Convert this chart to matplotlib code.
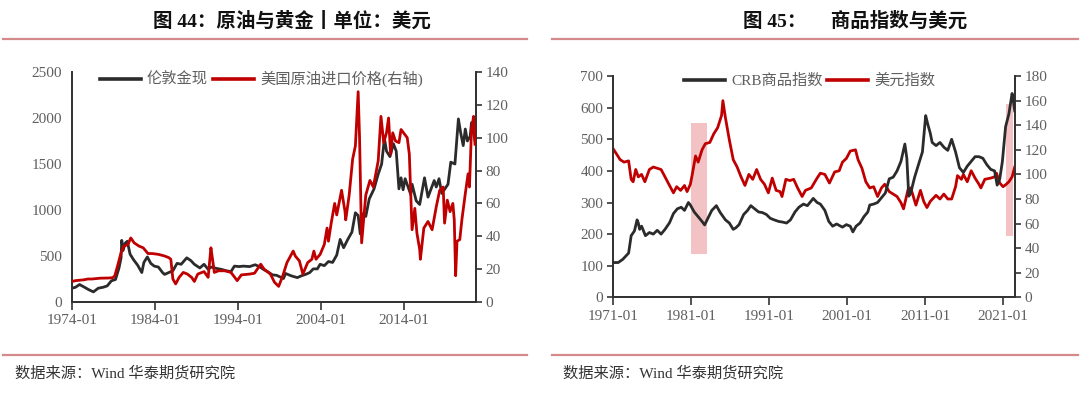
import matplotlib
matplotlib.use("Agg")
import matplotlib.pyplot as plt
import matplotlib.dates as mdates
from matplotlib.lines import Line2D
import pandas as pd

plt.rcParams['font.family'] = ['Liberation Serif', 'Noto Sans CJK SC', 'DejaVu Sans']

# ---------------- Data: chart 44 ----------------
gold_dates = ["1974-01","1974-06","1974-12","1975-06","1976-01","1976-08","1977-03","1977-10","1978-04","1978-10",
              "1979-04","1979-09","1979-12","1980-01","1980-03","1980-06","1980-09","1981-01","1981-06","1981-12",
              "1982-06","1982-09","1983-02","1983-07","1983-12","1984-06","1984-12","1985-03","1985-09","1986-03",
              "1986-09","1987-03","1987-11","1988-05","1988-10","1989-06","1989-12","1990-06","1990-10","1991-06",
              "1992-01","1992-08","1993-03","1993-08","1994-03","1994-09","1995-06","1996-02","1996-08","1997-03",
              "1997-09","1998-03","1998-09","1999-07","1999-10","2000-06","2001-03","2001-09","2002-03","2002-09",
              "2003-02","2003-08","2003-12","2004-06","2004-12","2005-06","2005-12","2006-05","2006-10","2007-04",
              "2007-10","2008-03","2008-07","2008-10","2009-02","2009-06","2009-11","2010-06","2010-12","2011-05",
              "2011-09","2011-12","2012-05","2012-10","2013-02","2013-06","2013-09","2013-12","2014-03","2014-11",
              "2015-01","2015-07","2015-12","2016-07","2016-12","2017-09","2017-12","2018-04","2018-08","2019-05",
              "2019-09","2020-03","2020-08","2020-11","2021-03","2021-06","2021-09","2022-01","2022-03","2022-06",
              "2022-08"]
gold_vals = [150,160,190,165,135,110,150,160,175,230,
             245,370,480,670,560,640,660,520,460,400,
             320,430,490,420,390,380,320,300,320,340,
             420,410,480,450,410,370,410,355,380,365,
             355,340,330,390,385,390,385,405,385,350,
             325,295,290,255,310,285,265,285,300,320,
             360,360,410,395,440,430,510,680,590,680,
             760,970,940,740,960,930,1120,1230,1390,1500,
             1780,1640,1580,1720,1640,1230,1350,1220,1340,1170,
             1280,1100,1060,1350,1140,1320,1250,1340,1180,1280,
             1520,1500,1990,1850,1700,1880,1750,1800,1950,1830,
             1760]

oil_dates = ["1974-01","1974-06","1975-06","1975-12","1976-06","1977-06","1978-06","1978-12","1979-03","1979-07",
             "1979-12","1980-04","1980-10","1981-02","1981-07","1982-02","1982-08","1983-03","1983-09","1984-06",
             "1985-03","1985-09","1985-12","1986-03","1986-07","1986-12","1987-06","1987-12","1988-06","1988-10",
             "1989-03","1989-12","1990-06","1990-10","1990-12","1991-03","1991-09","1992-06","1993-03","1993-12",
             "1994-06","1995-06","1996-01","1996-10","1997-03","1997-12","1998-06","1998-12","1999-06","1999-12",
             "2000-09","2000-12","2001-06","2001-11","2002-06","2002-12","2003-03","2003-06","2003-12","2004-06",
             "2004-10","2004-12","2005-04","2005-09","2005-12","2006-07","2006-12","2007-01","2007-06","2007-11",
             "2008-03","2008-07","2008-09","2008-12","2009-06","2009-12","2010-05","2010-12","2011-04","2011-08",
             "2011-12","2012-03","2012-06","2012-09","2013-01","2013-06","2013-09","2014-06","2014-09","2014-12",
             "2015-01","2015-05","2015-08","2015-12","2016-01","2016-06","2016-12","2017-06","2017-12","2018-05",
             "2018-10","2018-12","2019-04","2019-08","2019-12","2020-02","2020-04","2020-06","2020-10","2021-01",
             "2021-06","2021-10","2021-12","2022-03","2022-06","2022-08"]
oil_vals = [12.5,13.0,13.5,14.0,14.0,14.5,14.6,14.8,16,22,
            30,34,35,39,36,34,33,29.5,29.5,29,
            28,27,26,14,11,15,18,17,15,12.5,
            17,18.5,15,33,27,18,19,19,18,13,
            16.5,17,17.5,23,20,17,12,9.5,16,24,
            31,28,25,17,24,26,31,26,29,35,
            45,37,48,60,53,68,55,50,65,87,
            95,128,100,36,65,74,70,86,113,97,
            103,112,90,103,98,97,105,100,90,55,
            44,57,42,32,26,45,49,44,58,68,
            70,48,62,55,60,50,16,37,38,50,
            66,78,70,105,113,96]

# ---------------- Data: chart 45 ----------------
crb_dates = ["1971-01","1971-09","1972-04","1973-01","1973-05","1973-10","1974-02","1974-04","1974-06","1974-09",
             "1975-03","1975-09","1976-03","1976-09","1977-03","1977-09","1978-04","1978-10","1979-04","1979-10",
             "1980-03","1980-09","1980-12","1981-06","1981-12","1982-06","1982-10","1983-03","1983-09","1984-04",
             "1984-10","1985-06","1985-12","1986-06","1986-10","1987-03","1987-10","1988-04","1988-09","1989-03",
             "1989-09","1990-03","1990-09","1991-03","1991-09","1992-04","1992-10","1993-04","1993-10","1994-05",
             "1994-11","1995-06","1995-12","1996-06","1996-09","1997-03","1997-08","1998-03","1998-09","1999-03",
             "1999-09","2000-06","2000-12","2001-06","2001-10","2002-03","2002-09","2003-03","2003-09","2003-12",
             "2004-06","2004-12","2005-06","2005-12","2006-06","2006-12","2007-06","2007-12","2008-06","2008-09",
             "2008-12","2009-03","2009-09","2010-03","2010-09","2011-02","2011-05","2011-09","2011-12","2012-06",
             "2012-12","2013-06","2013-12","2014-06","2014-12","2015-06","2015-12","2016-06","2016-12","2017-06",
             "2017-12","2018-06","2018-12","2019-06","2019-12","2020-04","2020-08","2020-12","2021-05","2021-10",
             "2022-03","2022-05","2022-07"]
crb_vals = [110,110,120,140,195,210,245,235,215,225,
            195,205,200,212,200,215,236,265,280,285,
            275,300,292,270,255,240,229,250,275,290,
            268,245,235,215,220,230,262,275,290,280,
            270,268,262,250,245,240,238,235,245,270,
            285,295,290,305,313,300,295,275,240,225,
            232,222,230,225,207,225,235,255,270,292,
            295,300,315,330,375,380,400,430,485,440,
            320,330,380,420,460,575,550,520,490,480,
            490,475,465,500,460,410,395,415,430,445,
            445,440,420,405,400,355,375,430,540,580,
            645,620,590]

usd_dates = ["1971-01","1971-06","1971-12","1972-06","1973-01","1973-05","1973-08","1973-12","1974-04","1974-09",
             "1975-02","1975-09","1976-03","1976-09","1977-03","1977-09","1978-03","1978-10","1979-03","1979-09",
             "1980-03","1980-07","1980-12","1981-03","1981-08","1981-12","1982-06","1982-11","1983-06","1983-12",
             "1984-06","1984-12","1985-02","1985-06","1985-12","1986-06","1986-12","1987-06","1987-12","1988-06",
             "1988-12","1989-06","1989-12","1990-06","1990-12","1991-06","1991-12","1992-06","1992-09","1993-03",
             "1993-09","1994-03","1994-09","1995-04","1995-09","1996-06","1997-03","1997-08","1998-03","1998-10",
             "1999-06","2000-01","2000-06","2000-12","2001-06","2002-02","2002-06","2002-12","2003-06","2003-12",
             "2004-06","2004-12","2005-06","2005-11","2006-06","2006-12","2007-06","2007-12","2008-04","2008-11",
             "2009-03","2009-11","2010-06","2010-11","2011-04","2011-09","2012-06","2012-12","2013-06","2013-12",
             "2014-06","2014-12","2015-03","2015-09","2015-12","2016-06","2016-12","2017-06","2017-12","2018-03",
             "2018-09","2019-06","2019-12","2020-03","2020-08","2021-01","2021-06","2021-10","2022-03","2022-07"]
usd_vals = [121,117,112,110,111,96,94,104,98,100,
            94,104,106,105,104,98,92,85,90,87,
            91,86,92,100,115,110,120,125,126,133,
            138,148,160,146,128,112,106,98,91,100,
            96,104,96,92,85,97,87,86,82,96,
            95,96,89,82,87,89,97,101,100,93,
            102,103,110,113,119,120,112,105,94,89,
            90,82,89,92,86,84,82,77,72,88,
            89,75,87,78,73,78,83,80,84,80,
            80,90,99,96,100,94,103,97,92,89,
            96,97,98,101,93,90,92,94,98,106]

# shaded periods (right-axis units)
shade_start = ["1981-01", "2021-05"]
shade_end = ["1983-01", "2022-05"]
shade_low = [35, 50]
shade_high = [142, 157]

x_ticks_44 = ["1974-01", "1984-01", "1994-01", "2004-01", "2014-01"]
x_ticks_45 = ["1971-01", "1981-01", "1991-01", "2001-01", "2011-01", "2021-01"]

BLACK = '#2b2b2b'
RED = '#c00000'
TICKC = '#5f5f5f'
SPINE = '#333333'
SEP = '#d48a8a'
LW = 2.0

fig = plt.figure(figsize=(10.8, 3.95), dpi=100)

def d(lst):
    return pd.to_datetime(lst)

def style_axes(ax, ax2, left_len):
    for s in ['top']:
        ax.spines[s].set_visible(False)
        ax2.spines[s].set_visible(False)
    for s in ['left', 'bottom', 'right']:
        ax.spines[s].set_color(SPINE)
        ax2.spines[s].set_color(SPINE)
        ax.spines[s].set_linewidth(1.3)
        ax2.spines[s].set_linewidth(1.3)
    ax.tick_params(axis='y', direction='out', length=left_len, width=1.2, color=SPINE,
                   labelcolor=TICKC, labelsize=11, pad=7 if left_len == 0 else 3)
    ax.tick_params(axis='x', direction='out', length=6, width=1.2, color=SPINE,
                   labelcolor=TICKC, labelsize=11, pad=3)
    ax2.tick_params(axis='y', direction='out', length=4, width=1.2, color=SPINE,
                    labelcolor=TICKC, labelsize=11, pad=3)

# ---------------- Chart 44 ----------------
ax1 = fig.add_axes([72/1080, 1-302/395, (476-72)/1080, (302-72)/395])
ax1b = ax1.twinx()
ax1.plot(d(gold_dates), gold_vals, color=BLACK, lw=LW, zorder=3)
ax1b.plot(d(oil_dates), oil_vals, color=RED, lw=LW, zorder=3)
ax1.set_ylim(0, 2500)
ax1.set_yticks([0, 500, 1000, 1500, 2000, 2500])
ax1b.set_ylim(0, 140)
ax1b.set_yticks(range(0, 141, 20))
ax1.set_xlim(pd.Timestamp("1974-01-01"), pd.Timestamp("2022-09-15"))
ax1.set_xticks(d(x_ticks_44))
ax1.xaxis.set_major_formatter(mdates.DateFormatter('%Y-%m'))
style_axes(ax1, ax1b, 0)

h1 = [Line2D([], [], color=BLACK, lw=2.6), Line2D([], [], color=RED, lw=2.6)]
fig.legend(h1, ["伦敦金现", "美国原油进口价格(右轴)"], loc='center left',
           bbox_to_anchor=(92/1080, 1-79/395), ncol=2, frameon=False, fontsize=11,
           handlelength=2.7, handletextpad=0.4, columnspacing=0.3, borderpad=0,
           labelcolor=TICKC)

# ---------------- Chart 45 ----------------
ax2 = fig.add_axes([613/1080, 1-297.3/395, (1015-613)/1080, (297.3-76.1)/395])
ax2b = ax2.twinx()
for s0, s1, lo, hi in zip(shade_start, shade_end, shade_low, shade_high):
    t0 = mdates.date2num(pd.Timestamp(s0))
    t1 = mdates.date2num(pd.Timestamp(s1))
    ax2b.fill_between([t0, t1], [lo, lo], [hi, hi], color='#f2c2c4', lw=0, zorder=1)
ax2.plot(d(crb_dates), crb_vals, color=BLACK, lw=LW, zorder=3)
ax2b.plot(d(usd_dates), usd_vals, color=RED, lw=LW, zorder=3)
ax2.set_zorder(ax2b.get_zorder() + 1)
ax2.patch.set_visible(False)
ax2.set_ylim(0, 700)
ax2.set_yticks(range(0, 701, 100))
ax2b.set_ylim(0, 180)
ax2b.set_yticks(range(0, 181, 20))
ax2.set_xlim(pd.Timestamp("1971-01-01"), pd.Timestamp("2022-07-15"))
ax2.set_xticks(d(x_ticks_45))
ax2.xaxis.set_major_formatter(mdates.DateFormatter('%Y-%m'))
style_axes(ax2, ax2b, 4)

h2 = [Line2D([], [], color=BLACK, lw=2.6), Line2D([], [], color=RED, lw=2.6)]
fig.legend(h2, ["CRB商品指数", "美元指数"], loc='center left',
           bbox_to_anchor=(676/1080, 1-81/395), ncol=2, frameon=False, fontsize=11,
           handlelength=2.7, handletextpad=0.4, columnspacing=0.3, borderpad=0,
           labelcolor=TICKC)

# ---------------- Titles, separators, sources ----------------
fig.text(292/1080, 1-21/395, "图 44：原油与黄金丨单位：美元", ha='center', va='center',
         fontsize=14, fontweight='bold', color='#111111')
fig.text(855/1080, 1-21/395, "图 45：     商品指数与美元", ha='center', va='center',
         fontsize=14, fontweight='bold', color='#111111')

for (xa, xb) in [(3, 527), (552, 1078)]:
    for yy in (39, 355):
        fig.add_artist(Line2D([xa/1080, xb/1080], [1-yy/395, 1-yy/395], color=SEP, lw=1.6))

fig.text(15/1080, 1-373/395, "数据来源：Wind 华泰期货研究院", ha='left', va='center',
         fontsize=11, color='#333333')
fig.text(563/1080, 1-373/395, "数据来源：Wind 华泰期货研究院", ha='left', va='center',
         fontsize=11, color='#333333')

fig.savefig("out.png", dpi=100)
